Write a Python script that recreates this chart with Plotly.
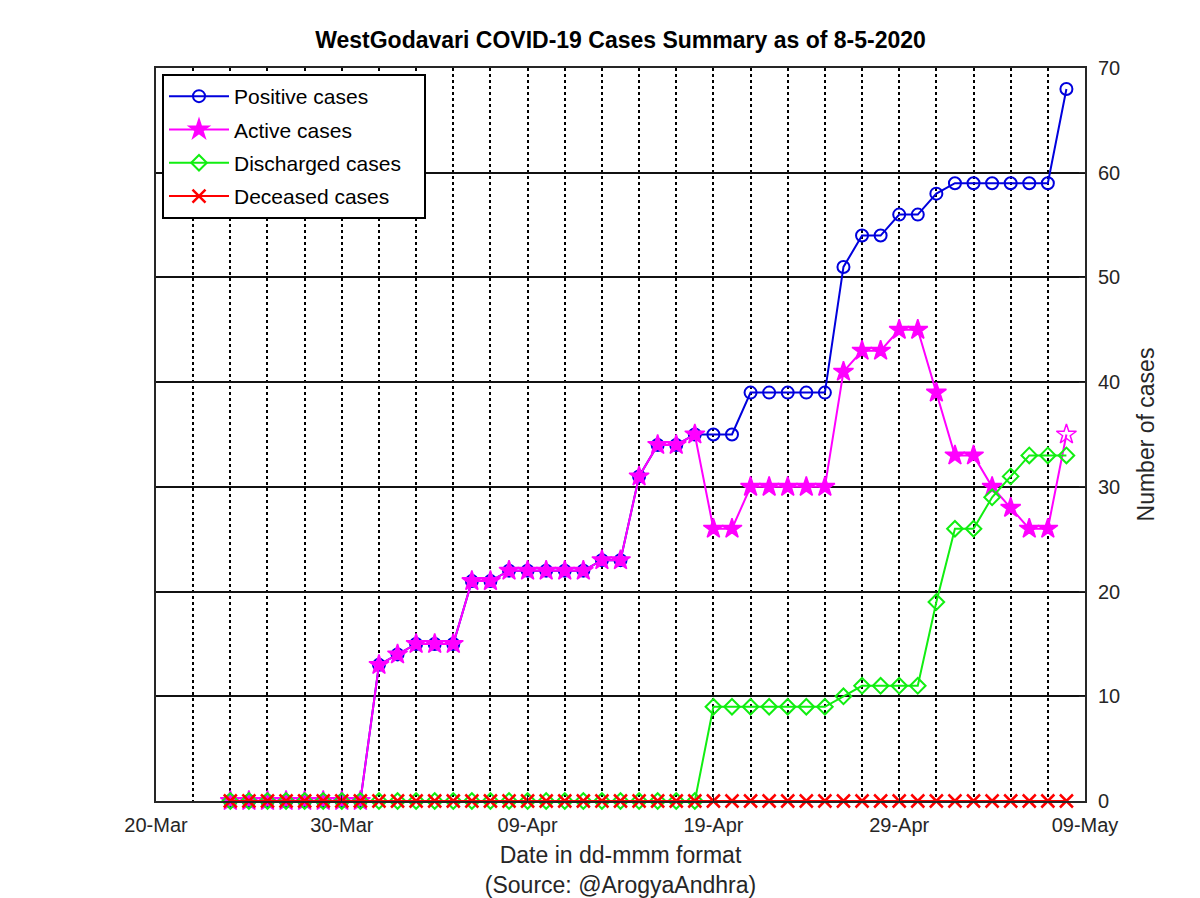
import plotly.graph_objects as go
import pandas as pd

dates = pd.date_range("2020-03-24", "2020-05-08", freq="D").strftime("%Y-%m-%d").tolist()

positive = [0, 0, 0, 0, 0, 0, 0, 0,
            13, 14, 15, 15, 15, 21, 21, 22, 22, 22, 22, 22, 23, 23, 31, 34, 34, 35,
            35, 35, 39, 39, 39, 39, 39, 51, 54, 54, 56, 56,
            58, 59, 59, 59, 59, 59, 59, 68]
active = [0, 0, 0, 0, 0, 0, 0, 0,
          13, 14, 15, 15, 15, 21, 21, 22, 22, 22, 22, 22, 23, 23, 31, 34, 34, 35,
          26, 26, 30, 30, 30, 30, 30, 41, 43, 43, 45, 45,
          39, 33, 33, 30, 28, 26, 26, 35]
discharged = [0] * 26 + [9, 9, 9, 9, 9, 9, 9, 10, 11, 11, 11, 11,
                         19, 26, 26, 29, 31, 33, 33, 33]
deceased = [0] * 46

series_names = ["Positive cases", "Active cases", "Discharged cases", "Deceased cases"]

font = "Liberation Sans, Arial, Helvetica, sans-serif"
axis_col = "#262626"
pad = "\u00a0" * 3

fig = go.Figure()
fig.add_trace(go.Scatter(
    x=dates, y=positive, name=series_names[0] + pad, legendgroup="g1", mode="lines+markers",
    cliponaxis=False,
    line=dict(color="#0000dd", width=2),
    marker=dict(symbol="circle-open", size=12, color="#0000dd", line=dict(width=2))))
star_symbols = ["star"] * (len(active) - 1) + ["star-open"]
fig.add_trace(go.Scatter(
    x=dates, y=active, name=series_names[1] + pad, legendgroup="g2", mode="lines+markers",
    cliponaxis=False,
    line=dict(color="#ff00ff", width=2),
    marker=dict(symbol=star_symbols, size=15, color="#ff00ff", line=dict(width=1.5, color="#ff00ff"))))
fig.add_trace(go.Scatter(
    x=dates, y=discharged, name=series_names[2] + pad, legendgroup="g3", mode="lines+markers",
    cliponaxis=False,
    line=dict(color="#11ee11", width=2),
    marker=dict(symbol="diamond-open", size=12, color="#11ee11", line=dict(width=2))))
fig.add_trace(go.Scatter(
    x=dates, y=deceased, name=series_names[3] + pad, legendgroup="g4", mode="lines+markers",
    cliponaxis=False,
    line=dict(color="#ff0000", width=2),
    marker=dict(symbol="x-thin-open", size=13, color="#ff0000", line=dict(width=2.5, color="#ff0000"))))

fig.update_layout(
    width=1200, height=898,
    margin=dict(l=148, r=123, t=60, b=105),
    paper_bgcolor="white", plot_bgcolor="white",
    font=dict(family=font, size=20, color=axis_col),
    title=dict(text="<b>WestGodavari COVID-19 Cases Summary as of 8-5-2020</b>",
               x=0.5, xref="paper", xanchor="center",
               y=1 - 32 / 898, yref="container", yanchor="middle",
               font=dict(size=23, color="black", family=font)),
    legend=dict(x=6 / 929, y=1 - 6 / 733, xanchor="left", yanchor="top",
                bgcolor="white", bordercolor="black", borderwidth=2,
                font=dict(size=21, color="black", family=font),
                itemwidth=60, tracegroupgap=3, traceorder="grouped"),
    showlegend=True,
)

fig.update_xaxes(
    type="date", range=["2020-03-20", "2020-05-09"],
    tick0="2020-03-20", dtick=10 * 86400000, tickformat="%d-%b",
    ticks="inside", ticklen=6, tickcolor=axis_col, ticklabelstandoff=5,
    showline=True, linecolor=axis_col, linewidth=2, mirror=True,
    showgrid=True, gridcolor="black", griddash="dot", gridwidth=2,
    minor=dict(tick0="2020-03-20", dtick=2 * 86400000, showgrid=True,
               gridcolor="black", griddash="dot", gridwidth=2, ticks=""),
    tickfont=dict(size=20, color=axis_col),
    title=dict(text="Date in dd-mmm format<br>(Source: @ArogyaAndhra)",
               font=dict(size=23, color=axis_col), standoff=12),
    zeroline=False,
)
fig.update_yaxes(
    range=[0, 70], dtick=10, side="right",
    ticks="inside", ticklen=6, tickcolor=axis_col, ticklabelstandoff=7,
    showline=True, linecolor=axis_col, linewidth=2, mirror=True,
    showgrid=True, gridcolor="#111111", gridwidth=2,
    tickfont=dict(size=20, color=axis_col),
    title=dict(text="Number of cases", font=dict(size=23, color=axis_col), standoff=19),
    zeroline=False,
)

fig.write_html("out.html")
